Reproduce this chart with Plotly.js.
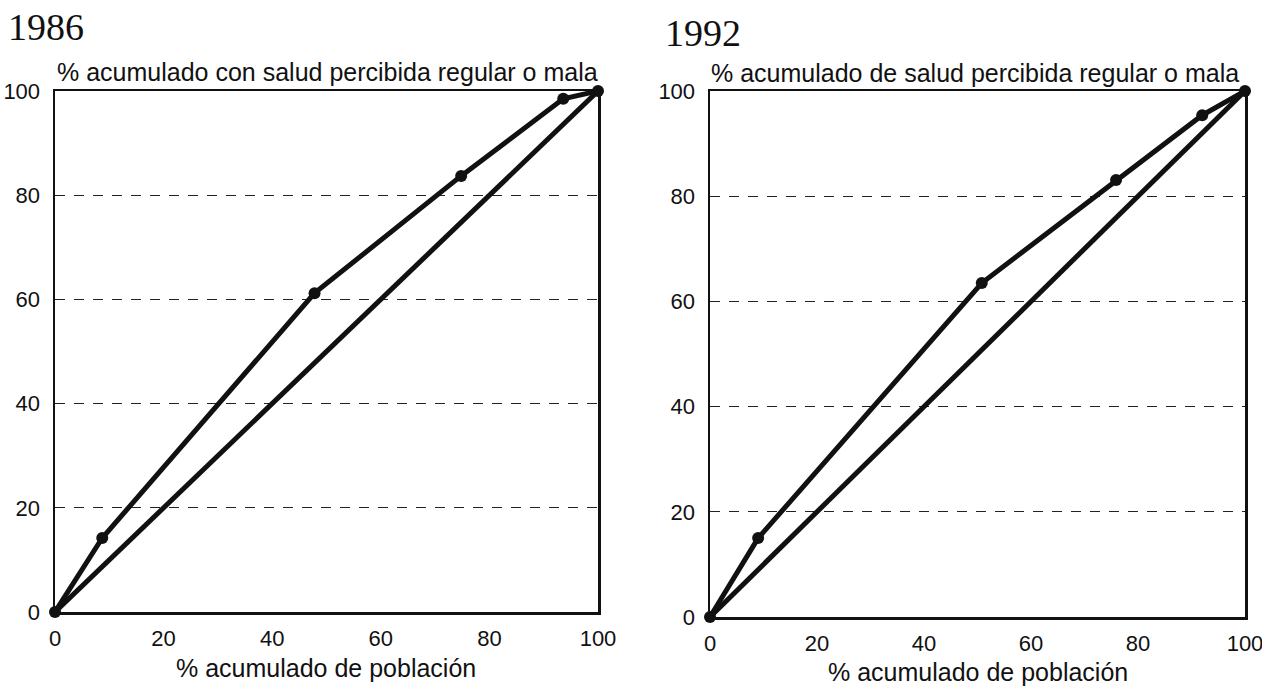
<!DOCTYPE html>
<html>
<head>
<meta charset="utf-8">
<script src="https://cdn.plot.ly/plotly-3.0.1.min.js"></script>
<style>html,body{margin:0;padding:0;background:#fff;}#chart{width:1262px;height:686px;}</style>
</head>
<body>
<div id="chart"></div>
<script>
// Data
const years = ["1986", "1992"];
const pop1986 = [0, 8.7, 47.8, 74.8, 93.6, 100];
const salud1986 = [0, 14.2, 61.2, 83.7, 98.5, 100];
const pop1992 = [0, 9.0, 50.8, 75.9, 92.0, 100];
const salud1992 = [0, 15.0, 63.5, 83.1, 95.4, 100];
const equality = [0, 100];
const tickVals = [0, 20, 40, 60, 80, 100];
const yTitles = ["% acumulado con salud percibida regular o mala", "% acumulado de salud percibida regular o mala"];
const xTitle = "% acumulado de población";

const W = 1262, H = 686;
const px = v => v / W;
const py = v => 1 - v / H;

const lineStyle = {color: "#111", width: 5};
const markerStyle = {color: "#111", size: 12};
const sans = "Liberation Sans, Arial, sans-serif";
const serif = "Liberation Serif, Times New Roman, serif";

const traces = [
  {x: equality, y: equality, xaxis: "x", yaxis: "y", mode: "lines", line: lineStyle, cliponaxis: false, hoverinfo: "skip"},
  {x: pop1986, y: salud1986, xaxis: "x", yaxis: "y", mode: "lines+markers", line: lineStyle, marker: markerStyle, cliponaxis: false},
  {x: equality, y: equality, xaxis: "x2", yaxis: "y2", mode: "lines", line: lineStyle, cliponaxis: false, hoverinfo: "skip"},
  {x: pop1992, y: salud1992, xaxis: "x2", yaxis: "y2", mode: "lines+markers", line: lineStyle, marker: markerStyle, cliponaxis: false}
];

function xax(d0, d1, anchor) {
  return {
    domain: [px(d0), px(d1)], anchor: anchor, range: [0, 100], tickvals: tickVals,
    showline: true, mirror: true, linecolor: "#111", linewidth: 2.5,
    showgrid: false, zeroline: false, ticks: "", ticklen: 0, ticklabelstandoff: 5,
    ticklabeloverflow: "allow",
    tickfont: {family: sans, size: 22, color: "#111"},
    fixedrange: true
  };
}
function yax(t, b, anchor) {
  return {
    domain: [py(b), py(t)], anchor: anchor, range: [0, 100], tickvals: tickVals,
    showline: true, mirror: true, linecolor: "#111", linewidth: 2.5,
    showgrid: true, gridcolor: "#222", gridwidth: 1, griddash: "10px,9px",
    zeroline: false, ticks: "", ticklen: 0, ticklabelstandoff: 8,
    ticklabeloverflow: "allow",
    tickfont: {family: sans, size: 22, color: "#111"},
    fixedrange: true
  };
}

const layout = {
  width: W, height: H,
  margin: {l: 0, r: 0, t: 0, b: 0},
  paper_bgcolor: "#fff", plot_bgcolor: "#fff",
  showlegend: false,
  font: {family: sans, size: 22, color: "#111"},
  xaxis: xax(55, 598, "y"),
  yaxis: yax(91, 612, "x"),
  xaxis2: xax(710, 1245, "y2"),
  yaxis2: yax(91, 617, "x2"),
  annotations: [
    {text: years[0], xref: "paper", yref: "paper", x: px(6), y: py(27), xanchor: "left", yanchor: "middle", showarrow: false,
     font: {family: serif, size: 38, color: "#111"}},
    {text: years[1], xref: "paper", yref: "paper", x: px(663), y: py(33), xanchor: "left", yanchor: "middle", showarrow: false,
     font: {family: serif, size: 38, color: "#111"}},
    {text: yTitles[0], xref: "paper", yref: "paper", x: px(55), y: py(72), xanchor: "left", yanchor: "middle", showarrow: false,
     font: {family: sans, size: 25, color: "#111"}},
    {text: yTitles[1], xref: "paper", yref: "paper", x: px(709), y: py(73), xanchor: "left", yanchor: "middle", showarrow: false,
     font: {family: sans, size: 25, color: "#111"}},
    {text: xTitle, xref: "paper", yref: "paper", x: px(326.5), y: py(668), xanchor: "center", yanchor: "middle", showarrow: false,
     font: {family: sans, size: 25, color: "#111"}},
    {text: xTitle, xref: "paper", yref: "paper", x: px(977.5), y: py(672), xanchor: "center", yanchor: "middle", showarrow: false,
     font: {family: sans, size: 25, color: "#111"}}
  ]
};

Plotly.newPlot("chart", traces, layout, {displayModeBar: false, staticPlot: true});
</script>
</body>
</html>
